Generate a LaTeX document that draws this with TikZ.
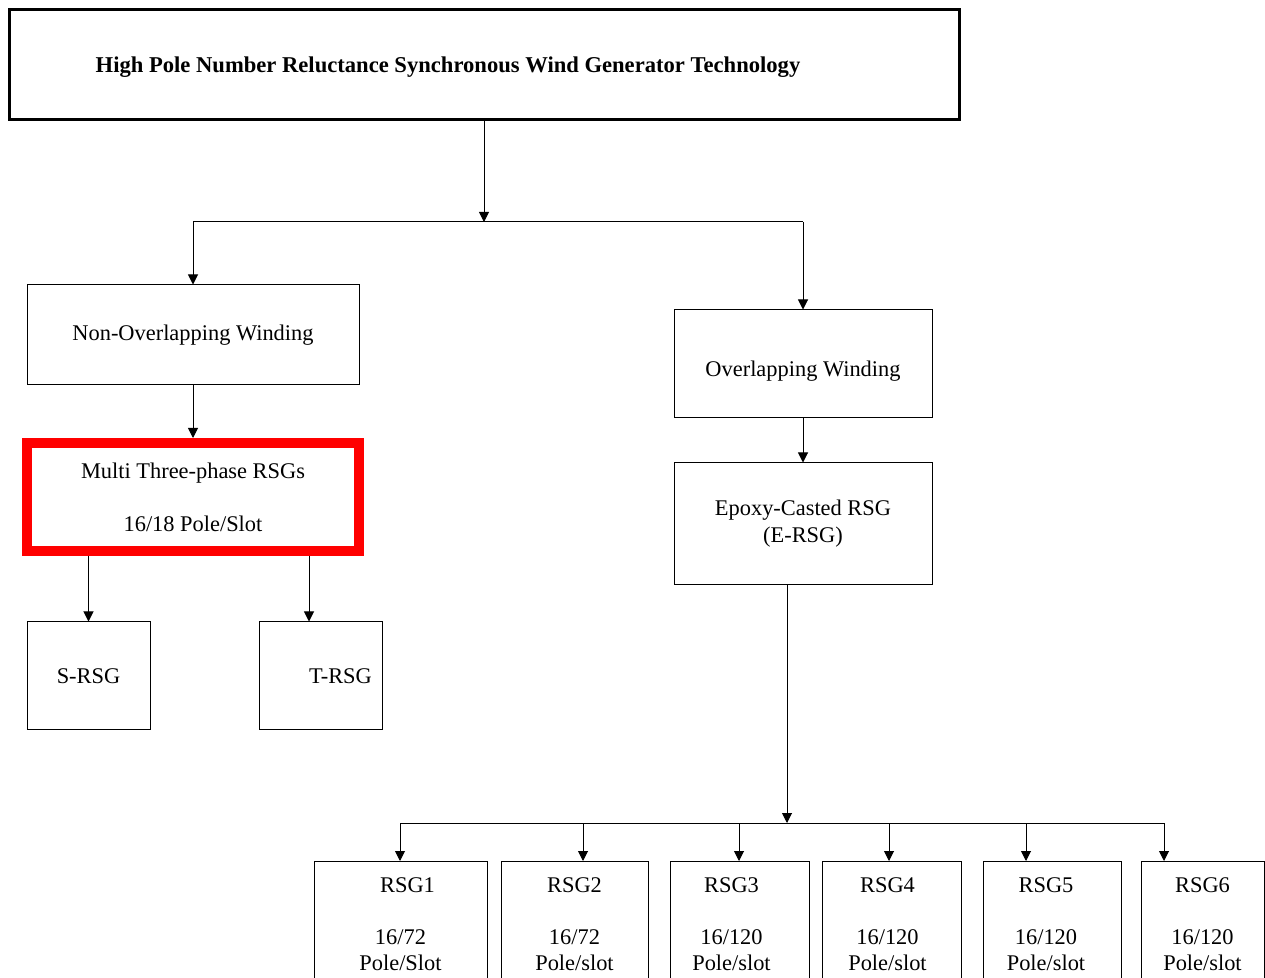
\documentclass[tikz,border=0pt]{standalone}
\usepackage{fontspec}
\setmainfont{Liberation Serif}
\usepackage{xcolor}
\definecolor{red_mark}{RGB}{255,0,0}
\usetikzlibrary{arrows.meta,calc}

\begin{document}
\begin{tikzpicture}
[
	x = 0.5pt, y = -0.5pt,
	box/.style = {draw, line width = 0.5pt, align = center, font = \fontsize{11.2}{13}\selectfont, inner sep = 0pt},
	rsgbox/.style = {box, anchor = north, inner ysep = 8pt},
	arr/.style = {line width = 0.5pt, -{Triangle[length = 5pt, width = 5pt]}},
	bus/.style = {line width = 0.5pt}
]
\clip (0,0) rectangle (1265,978);
\node[box, line width = 1.5pt, minimum width = 475pt, minimum height = 55pt,
	label = {[xshift = -18pt, yshift = -1pt, font = \fontsize{11.3}{13}\selectfont\bfseries]center:High Pole Number Reluctance Synchronous Wind Generator Technology}]
	(title) at (484,65) {};
\node[box, minimum width = 166pt, minimum height = 50pt] (nonover) at (193,335) {Non-Overlapping Winding};
\node[box, minimum width = 129pt, minimum height = 54pt,
	label = {[yshift = -3.5pt, font = \fontsize{11.2}{13}\selectfont]center:Overlapping Winding}] (over) at (803,364) {};
\node[box, draw = red_mark, line width = 5pt, minimum width = 166pt, minimum height = 54pt] (multi) at (193,497) {Multi Three-phase RSGs\\[13.5pt]16/18 Pole/Slot};
\node[box, minimum width = 61.5pt, minimum height = 54pt] (srsg) at (88.5,676) {S-RSG};
\node[box, minimum width = 61.5pt, minimum height = 54pt] (trsg) at (320.5,676) {\hspace{20pt}T-RSG};
\node[box, minimum width = 129pt, minimum height = 61pt] (epoxy) at (803,524) {Epoxy-Casted RSG\\[0.5pt](E-RSG)};
\node[rsgbox, minimum width = 86.5pt] (rsg1) at (400.5,861) {\hspace{7pt}RSG1\\[13pt]16/72\\Pole/Slot};
\node[rsgbox, minimum width = 73.5pt] (rsg2) at (574.5,861) {RSG2\\[13pt]16/72\\Pole/slot};
\node[rsgbox, minimum width = 69.5pt] (rsg3) at (739.5,861) {\hspace{-8pt}RSG3\\[13pt]\hspace{-8pt}16/120\\\hspace{-8pt}Pole/slot};
\node[rsgbox, minimum width = 69.5pt] (rsg4) at (891.5,861) {\hspace{-4pt}RSG4\\[13pt]\hspace{-4pt}16/120\\\hspace{-4pt}Pole/slot};
\node[rsgbox, minimum width = 69pt] (rsg5) at (1052,861) {\hspace{-6pt}RSG5\\[13pt]\hspace{-6pt}16/120\\\hspace{-6pt}Pole/slot};
\node[rsgbox, minimum width = 61.5pt] (rsg6) at (1202.5,861) {RSG6\\[13pt]16/120\\Pole/slot};
\coordinate (tjoin) at (484,222);
\coordinate (tarr) at (309,0);
\coordinate (ejoin) at (787,823);
\coordinate (b1) at (400,823);
\coordinate (b2) at (583,823);
\coordinate (b3) at (739,823);
\coordinate (b4) at (889,823);
\coordinate (b5) at (1026,823);
\coordinate (b6) at (1164,823);
\draw[arr] (title.south) -- (tjoin);
\draw[bus] (nonover.north |- tjoin) -- (over.north |- tjoin);
\draw[arr] (nonover.north |- tjoin) -- (nonover.north);
\draw[arr] (over.north |- tjoin) -- (over.north);
\draw[arr] (nonover.south) -- (multi.north);
\draw[arr] (srsg.north |- multi.south) -- (srsg.north);
\draw[arr] (tarr |- multi.south) -- (tarr |- trsg.north);
\draw[arr] (over.south) -- (epoxy.north);
\draw[arr] (epoxy.south -| ejoin) -- (ejoin);
\draw[bus] (b1) -- (b6);
\foreach \i in {1,...,6}
	\draw[arr] (b\i) -- (b\i |- rsg\i.north);
\end{tikzpicture}
\end{document}
